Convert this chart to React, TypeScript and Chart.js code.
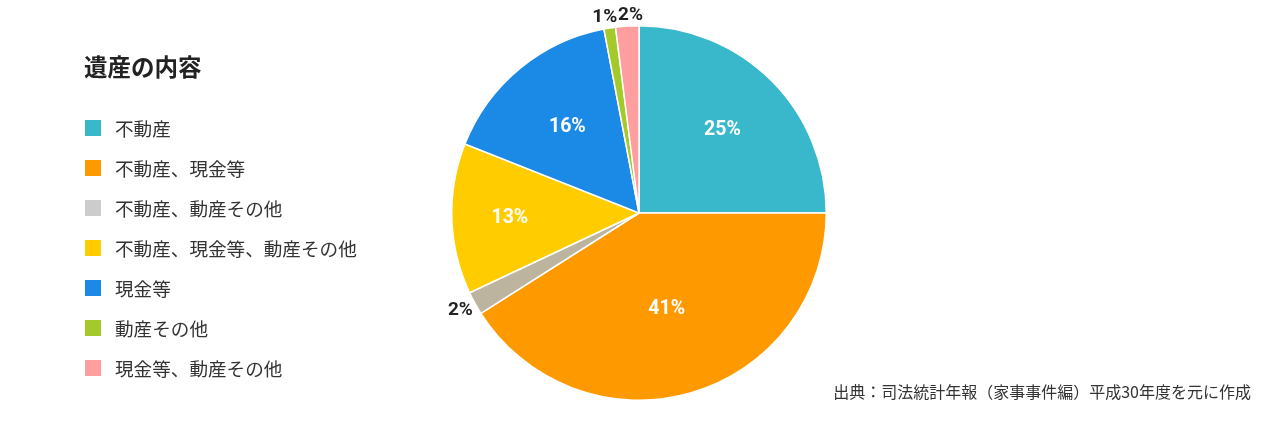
import React, { useEffect, useRef } from "react";
import { Chart, registerables } from "chart.js";

Chart.register(...registerables);

const title = "遺産の内容";
const categories = [
  "不動産",
  "不動産、現金等",
  "不動産、動産その他",
  "不動産、現金等、動産その他",
  "現金等",
  "動産その他",
  "現金等、動産その他",
];
const shares = [25, 41, 2, 13, 16, 1, 2];
const sliceColors = ["#3AB8CB", "#FF9900", "#BDB4A0", "#FFCC00", "#1A8AE6", "#A6C92A", "#FF9E9E"];
const legendColors = ["#3AB8CB", "#FF9900", "#CCCCCC", "#FFCC00", "#1A8AE6", "#A6C92A", "#FF9E9E"];
const source = "出典：司法統計年報（家事事件編）平成30年度を元に作成";

const JP = '"Noto Sans CJK JP", "Noto Sans", sans-serif';
const NUM = 'Roboto, "Noto Sans CJK JP", sans-serif';

const decorPlugin = {
  id: "decor",
  afterDraw(chart: any) {
    const ctx = chart.ctx;
    ctx.save();
    // title
    ctx.fillStyle = "#222";
    ctx.font = `bold 23.5px ${JP}`;
    ctx.textBaseline = "middle";
    ctx.textAlign = "left";
    ctx.fillText(title, 84, 67);
    // legend
    ctx.font = `18.6px ${JP}`;
    categories.forEach((c, i) => {
      const y = 128 + i * 40;
      ctx.fillStyle = legendColors[i];
      ctx.fillRect(85, y - 8, 16, 16);
      ctx.fillStyle = "#333";
      ctx.fillText(c, 115, y + 1);
    });
    // source
    ctx.font = `16px ${JP}`;
    ctx.fillStyle = "#333";
    ctx.textAlign = "right";
    ctx.fillText(source, 1251, 392);

    // percentage labels
    const meta = chart.getDatasetMeta(0);
    const inner = [0.63, 0.53, 0, 0.69, 0.6, 0, 0];
    const nudge = [0, 0, -4, 0, 0, -3, 4];
    meta.data.forEach((arc: any, i: number) => {
      const { x, y, startAngle, endAngle, outerRadius } = arc.getProps(
        ["x", "y", "startAngle", "endAngle", "outerRadius"],
        true
      );
      const mid = (startAngle + endAngle) / 2;
      const text = `${shares[i]}%`;
      ctx.textAlign = "center";
      ctx.textBaseline = "middle";
      if (shares[i] >= 5) {
        const r = outerRadius * inner[i];
        ctx.font = `bold 19.5px ${NUM}`;
        ctx.fillStyle = "#FFFFFF";
        ctx.fillText(text, x + Math.cos(mid) * r, y + Math.sin(mid) * r + 1);
      } else {
        const r = outerRadius + 12;
        ctx.font = `bold 19px ${NUM}`;
        ctx.fillStyle = "#222";
        ctx.fillText(text, x + Math.cos(mid) * r + nudge[i], y + Math.sin(mid) * r + 1);
      }
    });
    ctx.restore();
  },
};

export default function App() {
  const ref = useRef<HTMLCanvasElement>(null);
  useEffect(() => {
    if (!ref.current) return;
    const chart = new Chart(ref.current, {
      type: "pie",
      data: {
        labels: categories,
        datasets: [
          {
            data: shares,
            backgroundColor: sliceColors,
            borderColor: "#FFFFFF",
            borderWidth: 1.5,
          },
        ],
      },
      options: {
        animation: false,
        responsive: false,
        layout: { padding: { top: 25, bottom: 26, left: 0, right: 2 } },
        plugins: {
          legend: { display: false },
          tooltip: { enabled: false },
        },
      },
      plugins: [decorPlugin],
    });
    return () => chart.destroy();
  }, []);
  return (
    <div style={{ position: "absolute", left: 0, top: 0, width: 1280, height: 427, background: "#fff" }}>
      <canvas ref={ref} width={1280} height={427} style={{ width: 1280, height: 427 }} />
    </div>
  );
}
